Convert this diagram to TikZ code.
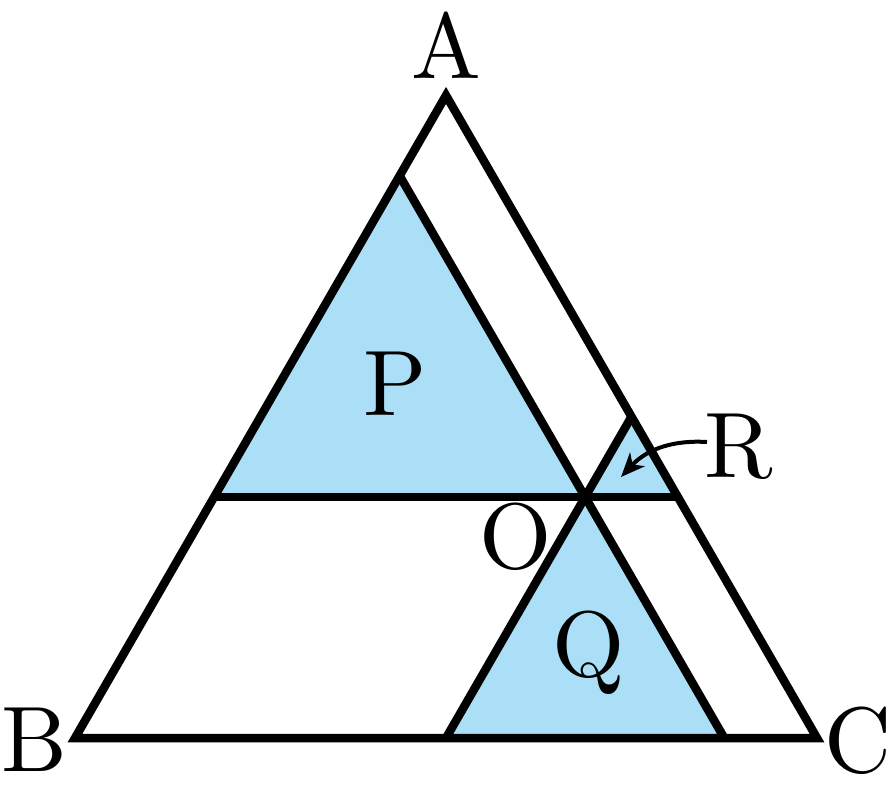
\documentclass[tikz,border=0pt]{standalone}
\usetikzlibrary{arrows.meta}
\definecolor{fillblue}{RGB}{171,223,248}
\begin{document}
\begin{tikzpicture}[x=1pt,y=-1pt,
  edge/.style={line width=8.5pt, line join=miter},
  lbl/.style={inner sep=0pt, anchor=base, scale=9.3, transform shape, font=\fontsize{10}{12}\selectfont}]
\useasboundingbox (0,0) rectangle (890,801);
% main triangle
\coordinate (B) at (75,738);
\coordinate (C) at (817,738);
\coordinate (A) at (446,95.4);
% inner points
\coordinate (O) at (585.1,497);
\coordinate (L) at (214.1,497);
\coordinate (Rr) at (677.9,497);
\coordinate (Pa) at (399.6,175.7);
\coordinate (Q1) at (446,738);
\coordinate (Q2) at (724.25,738);
\coordinate (Ra) at (631.5,416.7);
\coordinate (Rtip) at (621,477);
\coordinate (Rstart) at (707,442);
% fills
\fill[fillblue] (Pa) -- (L) -- (O) -- cycle;
\fill[fillblue] (O) -- (Q1) -- (Q2) -- cycle;
\fill[fillblue] (O) -- (Ra) -- (Rr) -- cycle;
% lines
\draw[edge] (A) -- (B) -- (C) -- cycle;
\draw[edge] (L) -- (Rr);
\draw[edge] (Pa) -- (Q2);
\draw[edge] (Q1) -- (Ra);
% labels
\node[lbl] (lA) at (446,78) {A};
\node[lbl] (lB) at (34,771) {B};
\node[lbl] (lC) at (858,772) {C};
\node[lbl] (lP) at (395,415) {P};
\node[lbl] (lO) at (516,568) {O};
\node[lbl] (lQ) at (589,676) {Q};
\node[lbl] (lR) at (739,477) {R};
% arrow
\draw[line width=4pt, -{Stealth[length=24pt,width=20pt,inset=7pt]}]
  (Rstart) .. controls (675,440) and (648,448) .. (Rtip);
\end{tikzpicture}
\end{document}
